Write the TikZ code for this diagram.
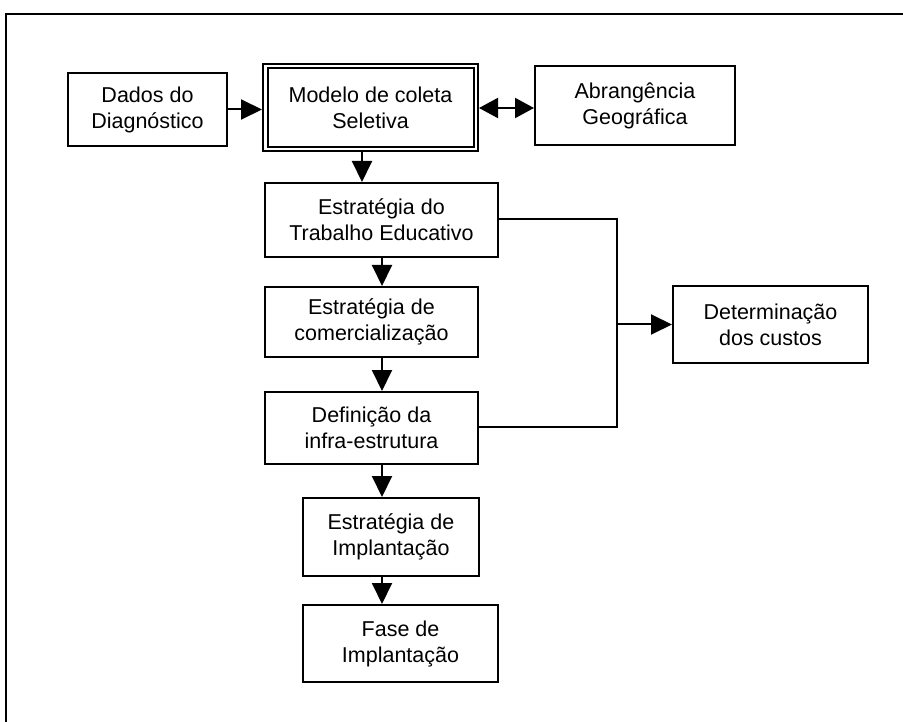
\documentclass[tikz,border=0pt]{standalone}
\usepackage{fontspec}
\setmainfont{Liberation Sans}
\usetikzlibrary{arrows.meta}
\begin{document}
\begin{tikzpicture}[x=1pt,y=-1pt,
  box/.style={draw,line width=2pt,rectangle,align=center,inner sep=0pt,
    font=\fontsize{21.5}{26}\selectfont},
  conn/.style={line width=2pt},
  arr/.style={conn,-{Triangle[length=21pt,width=20pt]}},
  darr/.style={conn,{Triangle[length=19pt,width=20pt]}-{Triangle[length=19pt,width=20pt]}}]
\useasboundingbox (0,0) rectangle (903,722);
\draw[line width=1.5pt] (903,14) -- (6,14) -- (6,722);
\node[box,minimum width=159pt,minimum height=73pt] (dados) at (147.5,109.5) {Dados do\\Diagnóstico};
\node[box,minimum width=215pt,minimum height=87pt] (modelo) at (370.5,107.5) {Modelo de coleta\\Seletiva};
\draw[line width=2pt] ([xshift=5.5pt,yshift=-5pt]modelo.north west) rectangle ([xshift=-5.5pt,yshift=5pt]modelo.south east);
\node[box,minimum width=200pt,minimum height=79pt] (abrang) at (635,105.5) {Abrangência\\Geográfica};
\node[box,minimum width=233pt,minimum height=74pt] (trab) at (381.5,220) {Estratégia do\\Trabalho Educativo};
\node[box,minimum width=213pt,minimum height=70pt] (comerc) at (371.5,322) {Estratégia de\\comercialização};
\node[box,minimum width=213pt,minimum height=72pt] (defin) at (371.5,428) {Definição da\\infra-estrutura};
\node[box,minimum width=195pt,minimum height=77pt] (custos) at (770.5,324.5) {Determinação\\dos custos};
\node[box,minimum width=176pt,minimum height=78pt] (implest) at (391,537) {Estratégia de\\Implantação};
\node[box,minimum width=195pt,minimum height=77pt] (fase) at (400.5,643.5) {Fase de\\Implantação};
\coordinate (colx) at (382,0);
\coordinate (busx) at (617,0);
\draw[arr] (dados.east) -- (dados.east -| modelo.west);
\draw[darr] ([yshift=-0.5pt]modelo.east) -- ([yshift=-0.5pt]modelo.east -| abrang.west);
\draw[arr] ([xshift=-8.5pt]modelo.south) -- ([xshift=-19.5pt]trab.north);
\draw[arr] (trab.south -| colx) -- (comerc.north -| colx);
\draw[arr] (comerc.south -| colx) -- (defin.north -| colx);
\draw[arr] (defin.south -| colx) -- (implest.north -| colx);
\draw[arr] (implest.south -| colx) -- (fase.north -| colx);
\draw[conn] ([yshift=1pt]trab.east) -- ([yshift=1pt]trab.east -| busx) -- ([yshift=1pt]defin.east -| busx) -- ([yshift=1pt]defin.east);
\draw[arr] (custos.west -| busx) -- (custos.west);
\end{tikzpicture}
\end{document}
